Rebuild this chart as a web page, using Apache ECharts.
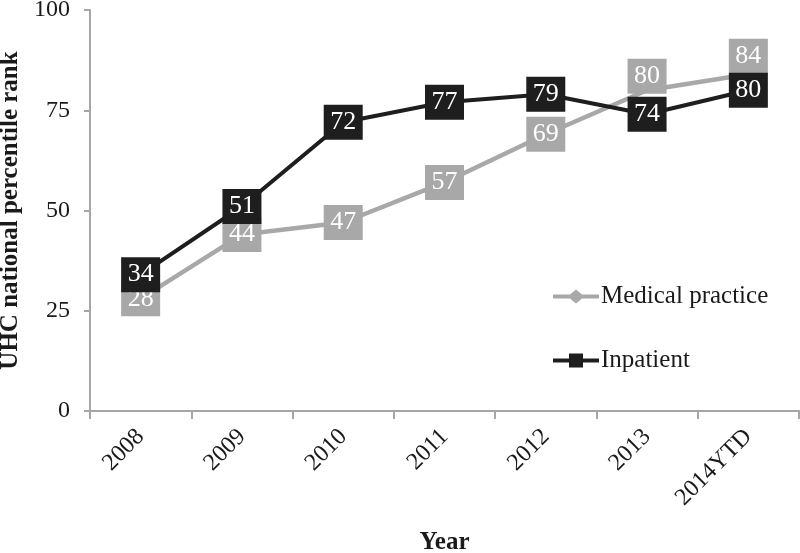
<!DOCTYPE html>
<html><head><meta charset="utf-8">
<script src="https://cdn.jsdelivr.net/npm/echarts@6/dist/echarts.min.js"></script>
<style>html,body{margin:0;padding:0;background:#fff}#c{width:800px;height:553px}</style>
</head><body><div id="c"></div>
<script>
const categories = ['2008','2009','2010','2011','2012','2013','2014YTD'];
const medicalPractice = [28,44,47,57,69,80,84];
const inpatient = [34,51,72,77,79,74,80];
const yTicks = [0,25,50,75,100];

const serif = '"Liberation Serif","DejaVu Serif",serif';
const gray = '#a8a8a8';
const dark = '#1e1e1e';
// labels for the last two medical-practice points were nudged upward in the original
const medicalLabelShift = {5:-14, 6:-18};

const chart = echarts.init(document.getElementById('c'));
const labelStyle = {show:true, position:'inside', color:'#fff', fontFamily:serif, fontSize:26};
const medData = medicalPractice.map((v,i)=> medicalLabelShift[i] !== undefined
  ? {value:v, symbolOffset:[0, medicalLabelShift[i]]} : v);
chart.setOption({
  animation:false,
  grid:{left:90,right:1,top:10,bottom:142, containLabel:false, outerBoundsMode:'none'},
  legend:{
    orient:'vertical', left:548, top:279, itemGap:39, itemWidth:46, itemHeight:14,
    textStyle:{fontFamily:serif, fontSize:25, color:'#1a1a1a', padding:[0,0,0,-3]},
    data:[
      {name:'Medical practice', icon:'path://M0,5 L17,5 L23,0 L29,5 L46,5 L46,9 L29,9 L23,14 L17,9 L0,9 Z', itemStyle:{color:gray}},
      {name:'Inpatient', icon:'path://M0,5 L16,5 L16,0 L30,0 L30,5 L46,5 L46,9 L30,9 L30,14 L16,14 L16,9 L0,9 Z', itemStyle:{color:dark}}
    ]
  },
  xAxis:{
    type:'category', data:categories, boundaryGap:true,
    name:'Year', nameLocation:'middle', nameGap:119,
    nameTextStyle:{fontFamily:serif, fontSize:25, fontWeight:'bold', color:'#1a1a1a'},
    axisLine:{lineStyle:{color:'#a6a6a6', width:2}},
    axisTick:{show:true, length:8, alignWithLabel:false, lineStyle:{color:'#a6a6a6', width:2}},
    axisLabel:{rotate:45, fontFamily:serif, fontSize:24, color:'#1a1a1a', margin:22}
  },
  yAxis:{
    type:'value', min:yTicks[0], max:yTicks[yTicks.length-1], interval:25,
    name:'UHC national percentile rank', nameLocation:'middle', nameGap:60,
    nameTextStyle:{fontFamily:serif, fontSize:25, fontWeight:'bold', color:'#1a1a1a'},
    axisLine:{show:true, lineStyle:{color:'#a6a6a6', width:2}},
    axisTick:{show:true, length:6, lineStyle:{color:'#a6a6a6', width:2}},
    splitLine:{show:false},
    axisLabel:{fontFamily:serif, fontSize:24, color:'#1a1a1a', margin:20}
  },
  series:[
    {name:'Medical practice', type:'line', data:medData, z:2,
     symbol:'rect', symbolSize:[39,35], showAllSymbol:true,
     lineStyle:{color:gray, width:4.5}, itemStyle:{color:gray, borderWidth:0},
     label:labelStyle},
    {name:'Inpatient', type:'line', data:inpatient, z:3,
     symbol:'rect', symbolSize:[39,35], showAllSymbol:true,
     lineStyle:{color:dark, width:4}, itemStyle:{color:dark, borderWidth:0},
     label:labelStyle}
  ]
});
</script></body></html>
